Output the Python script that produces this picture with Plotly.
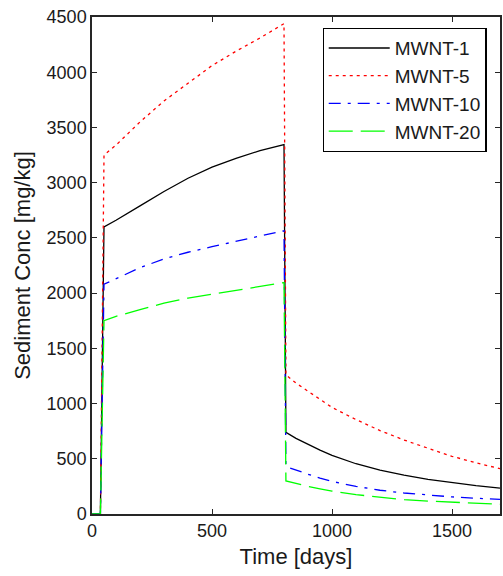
import plotly.graph_objects as go

time_days = [0, 35, 50, 100, 200, 300, 400, 500, 600, 700, 800, 808, 850, 900, 950, 1000, 1100, 1200, 1300, 1400, 1500, 1600, 1700]

mwnt1 = [0, 0, 2600, 2660, 2790, 2920, 3040, 3140, 3220, 3290, 3345,
         740, 685, 630, 578, 530, 455, 398, 352, 314, 283, 257, 235]
mwnt5 = [0, 0, 3250, 3340, 3550, 3740, 3900, 4060, 4190, 4310, 4440,
         1260, 1185, 1110, 1035, 965, 855, 755, 670, 595, 522, 464, 410]
mwnt10 = [0, 0, 2080, 2130, 2230, 2310, 2370, 2420, 2470, 2520, 2565,
          430, 395, 360, 325, 295, 250, 215, 190, 170, 155, 143, 133]
mwnt20 = [0, 0, 1750, 1790, 1850, 1910, 1955, 1990, 2030, 2065, 2095,
          300, 275, 250, 228, 208, 175, 150, 130, 117, 106, 96, 88]

series = [
    ("MWNT-1", mwnt1, "#000000", "solid"),
    ("MWNT-5", mwnt5, "#ff0000", "3px,4px"),
    ("MWNT-10", mwnt10, "#0000ff", "12px,7px,3px,7px"),
    ("MWNT-20", mwnt20, "#00ff00", "24px,8px"),
]

FONT = "Liberation Sans, Arial, sans-serif"

fig = go.Figure()
for i, (name, vals, color, dash) in enumerate(series):
    fig.add_trace(go.Scatter(
        x=time_days, y=vals, name=name, mode="lines",
        line=dict(color=color, width=1.3, dash=dash),
        legendgroup=f"g{i}",
    ))

axis_common = dict(
    showline=True, linecolor="#262626", linewidth=1.5, mirror="ticks",
    ticks="inside", ticklen=5, tickwidth=1.2, tickcolor="#262626",
    showgrid=False, zeroline=False,
    tickfont=dict(family=FONT, size=18, color="#1a1a1a"),
)

fig.update_xaxes(range=[0, 1700], tickvals=[0, 500, 1000, 1500],
                 title=dict(text="Time [days]", font=dict(family=FONT, size=22, color="#1a1a1a"), standoff=8),
                 **axis_common)
fig.update_yaxes(range=[0, 4500], tickvals=list(range(0, 4501, 500)),
                 title=dict(text="Sediment Conc [mg/kg]", font=dict(family=FONT, size=22, color="#1a1a1a"), standoff=10),
                 **axis_common)

fig.update_layout(
    width=503, height=576,
    margin=dict(l=92, r=1, t=17, b=62),
    plot_bgcolor="white", paper_bgcolor="white",
    showlegend=True,
    legend=dict(
        x=0.565, y=0.978, xanchor="left", yanchor="top",
        bordercolor="#000000", borderwidth=1.2, bgcolor="white",
        font=dict(family=FONT, size=19, color="#1a1a1a"),
        tracegroupgap=0, itemwidth=61,
    ),
)

fig.write_html("out.html")
